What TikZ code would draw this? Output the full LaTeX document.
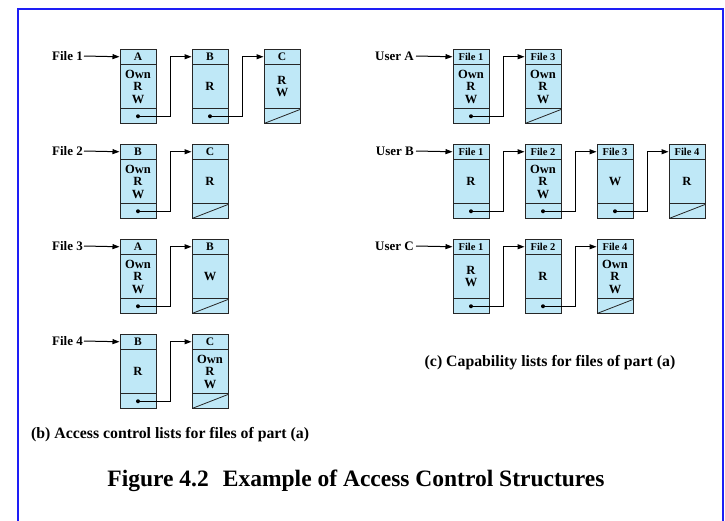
\documentclass[tikz,border=0pt]{standalone}
\usepackage{fontspec}
\setmainfont{Liberation Serif}
\usetikzlibrary{shapes.multipart, arrows.meta, positioning, calc}

\definecolor{cellblue}{RGB}{191,232,247}
\definecolor{framecol}{RGB}{30,30,245}

% parts of one list cell
\newcommand{\hpart}[1]{\parbox[c][14pt][c]{36pt}{\centering\fontsize{11.5}{11.5}\selectfont #1}}
\newcommand{\bpart}[1]{\parbox[c][43pt][c]{36pt}{\centering #1}}
\newcommand{\fpart}{\parbox[c][14pt][c]{36pt}{\mbox{}}}
\newcommand{\fname}[1]{{\fontsize{10.5}{10.5}\selectfont #1}}

% pointer from the foot of one cell to the head of the next
\newcommand{\nextlink}[2]{%
  \fill ($(#1.south)!0.5!(#1.two split)$) circle (2pt);
  \draw[link] ($(#1.south)!0.5!(#1.two split)$) -| ($(#2.north west)!0.5!(#2.one split west)+(-21pt,0)$) -- ($(#2.north west)!0.5!(#2.one split west)$);}
\newcommand{\headlink}[2]{\draw[link] (#1.east) -- ($(#2.north west)!0.5!(#2.one split west)$);}

\begin{document}
\begin{tikzpicture}[x=1pt, y=-1pt,
	link/.style = {-{Triangle[length=7pt,width=5pt]}, line width=1pt},
	every node/.style = {font=\fontsize{12.5}{12.5}\selectfont\bfseries}]

\tikzstyle{cell}=[rectangle split, rectangle split parts=3, draw=black!85, fill=cellblue, line width=1pt, inner sep=0pt, anchor=north west]
\tikzstyle{end_cell}=[cell, path picture={\draw[line width=0.8pt] (path picture bounding box.south west) -- ([yshift=14pt]path picture bounding box.south east);}]
\tikzstyle{lbl}=[font=\fontsize{13}{13}\selectfont\bfseries, inner sep=1pt, anchor=east]
\tikzstyle{caption}=[font=\fontsize{15.8}{15.8}\selectfont\bfseries, inner sep=0pt]

\useasboundingbox (0,0) rectangle (725,520);
\draw[framecol, line width=2pt] (18,530) -- (18,9) -- (723,9) -- (723,530);

% (b) access control lists
\node[cell] (f1_a) at (119.5,49) {\hpart{A} \nodepart{two} \bpart{Own\\R\\W} \nodepart{three} \fpart};
\node[cell, right=35pt of f1_a] (f1_b) {\hpart{B} \nodepart{two} \bpart{R} \nodepart{three} \fpart};
\node[end_cell, right=35pt of f1_b] (f1_c) {\hpart{C} \nodepart{two} \bpart{R\\W} \nodepart{three} \fpart};

\node[cell] (f2_b) at (119.5,144) {\hpart{B} \nodepart{two} \bpart{Own\\R\\W} \nodepart{three} \fpart};
\node[end_cell, right=35pt of f2_b] (f2_c) {\hpart{C} \nodepart{two} \bpart{R} \nodepart{three} \fpart};

\node[cell] (f3_a) at (119.5,239) {\hpart{A} \nodepart{two} \bpart{Own\\R\\W} \nodepart{three} \fpart};
\node[end_cell, right=35pt of f3_a] (f3_b) {\hpart{B} \nodepart{two} \bpart{W} \nodepart{three} \fpart};

\node[cell] (f4_b) at (119.5,334) {\hpart{B} \nodepart{two} \bpart{R} \nodepart{three} \fpart};
\node[end_cell, right=35pt of f4_b] (f4_c) {\hpart{C} \nodepart{two} \bpart{Own\\R\\W} \nodepart{three} \fpart};

\node[lbl] (file1) at (84,56) {File 1};
\node[lbl] (file2) at (84,151) {File 2};
\node[lbl] (file3) at (84,246) {File 3};
\node[lbl] (file4) at (84,341) {File 4};

\headlink{file1}{f1_a}
\nextlink{f1_a}{f1_b}
\nextlink{f1_b}{f1_c}
\headlink{file2}{f2_b}
\nextlink{f2_b}{f2_c}
\headlink{file3}{f3_a}
\nextlink{f3_a}{f3_b}
\headlink{file4}{f4_b}
\nextlink{f4_b}{f4_c}

% (c) capability lists
\node[cell] (ua_1) at (452.5,49) {\hpart{\fname{File 1}} \nodepart{two} \bpart{Own\\R\\W} \nodepart{three} \fpart};
\node[end_cell, right=35pt of ua_1] (ua_3) {\hpart{\fname{File 3}} \nodepart{two} \bpart{Own\\R\\W} \nodepart{three} \fpart};

\node[cell] (ub_1) at (452.5,144) {\hpart{\fname{File 1}} \nodepart{two} \bpart{R} \nodepart{three} \fpart};
\node[cell, right=35pt of ub_1] (ub_2) {\hpart{\fname{File 2}} \nodepart{two} \bpart{Own\\R\\W} \nodepart{three} \fpart};
\node[cell, right=35pt of ub_2] (ub_3) {\hpart{\fname{File 3}} \nodepart{two} \bpart{W} \nodepart{three} \fpart};
\node[end_cell, right=35pt of ub_3] (ub_4) {\hpart{\fname{File 4}} \nodepart{two} \bpart{R} \nodepart{three} \fpart};

\node[cell] (uc_1) at (452.5,239) {\hpart{\fname{File 1}} \nodepart{two} \bpart{R\\W} \nodepart{three} \fpart};
\node[cell, right=35pt of uc_1] (uc_2) {\hpart{\fname{File 2}} \nodepart{two} \bpart{R} \nodepart{three} \fpart};
\node[end_cell, right=35pt of uc_2] (uc_4) {\hpart{\fname{File 4}} \nodepart{two} \bpart{Own\\R\\W} \nodepart{three} \fpart};

\node[lbl, inner sep=2pt] (usera) at (416,56) {User A};
\node[lbl, inner sep=2pt] (userb) at (416,151) {User B};
\node[lbl, inner sep=2pt] (userc) at (416,246) {User C};

\headlink{usera}{ua_1}
\nextlink{ua_1}{ua_3}
\headlink{userb}{ub_1}
\nextlink{ub_1}{ub_2}
\nextlink{ub_2}{ub_3}
\nextlink{ub_3}{ub_4}
\headlink{userc}{uc_1}
\nextlink{uc_1}{uc_2}
\nextlink{uc_2}{uc_4}

% captions
\node[caption, anchor=west] (capb) at (31,435) {(b) Access control lists for files of part (a)};
\node[caption] (capc) at (550,363) {(c) Capability lists for files of part (a)};
\node[font=\fontsize{23.5}{23.5}\selectfont\bfseries] (title) at (356,481) {Figure 4.2\hspace{0.6em}Example of Access Control Structures};
\end{tikzpicture}
\end{document}
